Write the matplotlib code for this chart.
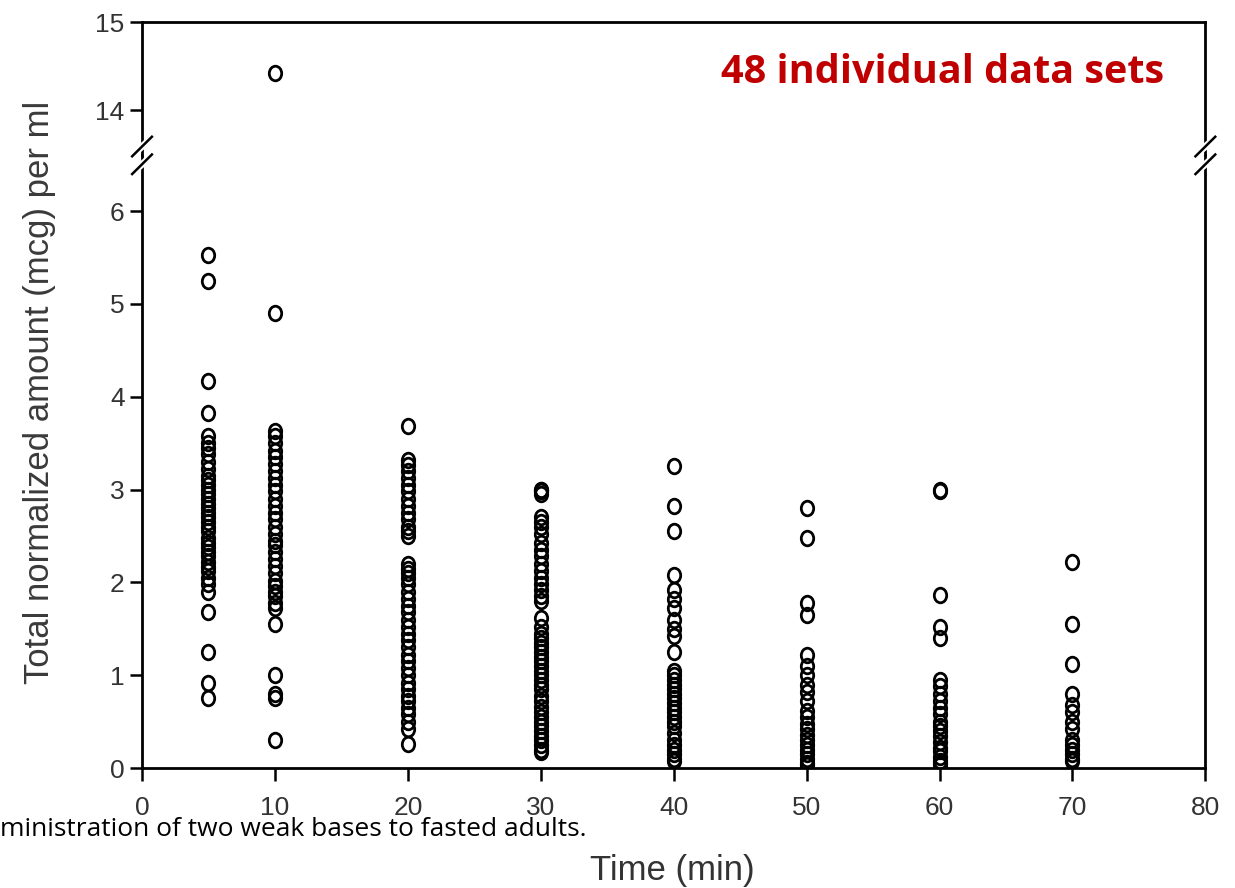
import matplotlib.pyplot as plt
from matplotlib.lines import Line2D
from matplotlib.path import Path
from matplotlib.transforms import Affine2D

# data
times = [5, 10, 20, 30, 40, 50, 60, 70]

t5 = [5.53, 5.25, 4.17, 3.82, 3.58, 3.5, 3.45, 3.38, 3.3, 3.22, 3.15, 3.1, 3.05,
      3.0, 2.95, 2.9, 2.85, 2.8, 2.75, 2.7, 2.65, 2.6, 2.55, 2.48, 2.42, 2.38,
      2.33, 2.28, 2.22, 2.17, 2.12, 2.05, 1.98, 1.9, 1.68, 1.25, 0.92, 0.76]
t10 = [14.42, 4.9, 3.63, 3.58, 3.5, 3.42, 3.35, 3.28, 3.2, 3.12, 3.05, 2.98,
       2.9, 2.82, 2.75, 2.68, 2.6, 2.52, 2.45, 2.4, 2.33, 2.25, 2.18, 2.1, 2.02,
       1.96, 1.9, 1.85, 1.78, 1.72, 1.55, 1.0, 0.8, 0.75, 0.3]
t20 = [3.68, 3.32, 3.27, 3.2, 3.12, 3.05, 2.98, 2.9, 2.82, 2.75, 2.68, 2.6,
       2.55, 2.5, 2.2, 2.15, 2.1, 2.05, 1.98, 1.9, 1.82, 1.75, 1.68, 1.6, 1.52,
       1.45, 1.38, 1.3, 1.22, 1.15, 1.08, 1.0, 0.92, 0.85, 0.78, 0.72, 0.65,
       0.58, 0.5, 0.42, 0.26]
t30 = [3.0, 3.0, 2.98, 2.95, 2.7, 2.65, 2.6, 2.52, 2.42, 2.35, 2.28, 2.2, 2.12,
       2.05, 1.98, 1.92, 1.85, 1.8, 1.62, 1.52, 1.45, 1.4, 1.35, 1.3, 1.25, 1.2,
       1.15, 1.1, 1.05, 1.0, 0.95, 0.9, 0.85, 0.78, 0.72, 0.66, 0.6, 0.55, 0.5,
       0.45, 0.4, 0.35, 0.3, 0.25, 0.2, 0.17]
t40 = [3.25, 2.82, 2.55, 2.08, 1.92, 1.82, 1.72, 1.6, 1.5, 1.42, 1.25, 1.05,
       1.0, 0.95, 0.9, 0.85, 0.8, 0.75, 0.7, 0.65, 0.6, 0.55, 0.5, 0.45, 0.38,
       0.3, 0.25, 0.2, 0.15, 0.1, 0.08]
t50 = [2.8, 2.48, 1.78, 1.65, 1.22, 1.1, 1.0, 0.9, 0.82, 0.72, 0.62, 0.55,
       0.48, 0.42, 0.36, 0.3, 0.25, 0.2, 0.15, 0.1, 0.06, 0.03]
t60 = [3.0, 2.98, 1.87, 1.52, 1.4, 0.95, 0.88, 0.8, 0.72, 0.65, 0.58, 0.5,
       0.45, 0.4, 0.35, 0.28, 0.22, 0.18, 0.12, 0.08, 0.05, 0.03]
t70 = [2.22, 1.55, 1.12, 0.8, 0.68, 0.6, 0.5, 0.42, 0.3, 0.25, 0.2, 0.15,
       0.1, 0.08]

values = [t5, t10, t20, t30, t40, t50, t60, t70]

x_ticks = [0, 10, 20, 30, 40, 50, 60, 70, 80]
y_ticks_low = [0, 1, 2, 3, 4, 5, 6]
y_ticks_high = [14, 15]

plt.rcParams['font.family'] = ['Liberation Sans', 'DejaVu Sans']

# slightly tall open circle, like the original
oval = Affine2D().scale(0.85, 1.0).transform_path(Path.unit_circle())

fig = plt.figure(figsize=(12.35, 8.88), dpi=100)
left, width = 0.115, 0.861
ax_low = fig.add_axes([left, 0.135, width, 0.690])
ax_high = fig.add_axes([left, 0.825, width, 0.150])

for ax in (ax_low, ax_high):
    for t, vals in zip(times, values):
        ax.plot([t] * len(vals), vals, linestyle='none', marker=oval,
                markersize=10.5, markerfacecolor='none', markeredgecolor='black',
                markeredgewidth=2.0)
    ax.set_xlim(0, 80)
    for s in ax.spines.values():
        s.set_linewidth(2.0)
    ax.tick_params(axis='y', direction='out', length=9, width=1.8,
                   labelsize=19, labelcolor='#333333', right=False)
    ax.tick_params(axis='x', direction='out', length=9, width=1.8,
                   labelsize=19, labelcolor='#333333', pad=11, top=False)

ax_low.set_ylim(0, 6.6)
ax_low.set_yticks(y_ticks_low)
ax_low.set_xticks(x_ticks)
ax_low.spines['top'].set_visible(False)

ax_high.set_ylim(13.49, 15)
ax_high.set_yticks(y_ticks_high)
ax_high.set_xticks(x_ticks)
ax_high.tick_params(axis='x', bottom=False, labelbottom=False)
ax_high.spines['bottom'].set_visible(False)

# break marks on both spines
for xa in (0, 1):
    for dy in (-0.010, 0.010):
        fig.add_artist(Line2D([left + xa * width - 0.010, left + xa * width + 0.010],
                              [0.825 + dy - 0.012, 0.825 + dy + 0.012],
                              color='white', linewidth=5))
    for dy in (-0.010, 0.010):
        fig.add_artist(Line2D([left + xa * width - 0.008, left + xa * width + 0.008],
                              [0.825 + dy - 0.011, 0.825 + dy + 0.011],
                              color='black', linewidth=1.8))

fig.text(0.032, 0.558, 'Total normalized amount (mcg) per ml', rotation=90,
         ha='center', va='center', fontsize=25, color='#3a3a3a')
fig.text(0.544, 0.02, 'Time (min)', ha='center', va='center',
         fontsize=25, color='#333333')
fig.text(0.943, 0.918, '48 individual data sets', ha='right', va='center',
         fontsize=28.5, fontweight='bold', color='#c00000', family='Open Sans')
# caption fragment overlaps the tick labels in the original too
fig.text(0.0, 0.066, 'ministration of two weak bases to fasted adults.',
         ha='left', va='center', fontsize=19, color='black', family='Open Sans')

fig.savefig('out.png', dpi=100)
